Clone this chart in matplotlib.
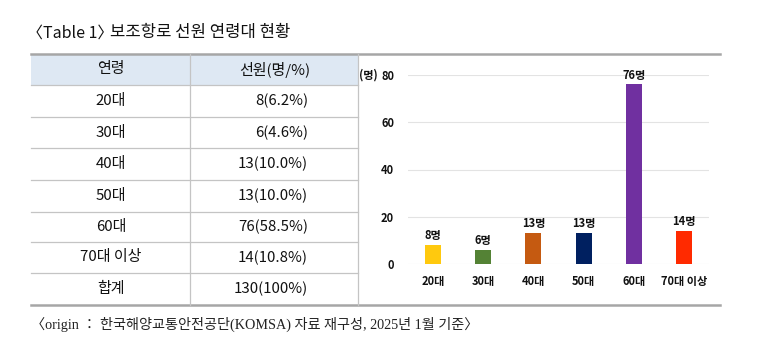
import matplotlib
matplotlib.use("Agg")
import matplotlib.pyplot as plt

plt.rcParams['font.family'] = ['Noto Sans CJK KR', 'DejaVu Sans']

title_a = "〈Table 1〉"
title_b = "보조항로 선원 연령대 현황"
header = ["연령", "선원(명/%)"]
ages = ["20대", "30대", "40대", "50대", "60대", "70대 이상"]
counts = [8, 6, 13, 13, 76, 14]
pcts = [6.2, 4.6, 10.0, 10.0, 58.5, 10.8]
total_label = "합계"
total_count = 130
total_pct = "100%"
bar_colors = ["#FFC90E", "#548235", "#C55A11", "#002060", "#7030A0", "#FF2A00"]
yticks = [0, 20, 40, 60, 80]
unit = "(명)"
footnote = "〈origin ： 한국해양교통안전공단(KOMSA) 자료 재구성, 2025년 1월 기준〉"

W, H = 760, 348
fig = plt.figure(figsize=(W / 100, H / 100), dpi=100)

# Background axes in pixel coordinates
bg = fig.add_axes([0, 0, 1, 1])
bg.set_xlim(0, W)
bg.set_ylim(H, 0)
bg.axis("off")

bg.text(27, 33, title_a, fontsize=11.5, va="center", ha="left", color="#111111")
bg.text(110, 33, title_b, fontsize=12, va="center", ha="left", color="#111111",
        fontweight="medium")

# table geometry
x0, xmid, x1, xr = 31, 190, 358, 720
row_edges = [54, 85, 117, 148, 180, 212, 242, 273, 305]

bg.add_patch(plt.Rectangle((x0, row_edges[0]), x1 - x0, row_edges[1] - row_edges[0],
                           facecolor="#DEE8F3", edgecolor="none", zorder=0))
for y in row_edges[1:-1]:
    bg.plot([x0, x1], [y, y], color="#C4C4C4", lw=0.9, zorder=1)
bg.plot([x0, xr], [row_edges[0], row_edges[0]], color="#A6A6A6", lw=1.8, zorder=2)
bg.plot([x0, xr], [row_edges[-1], row_edges[-1]], color="#A6A6A6", lw=1.8, zorder=2)
bg.plot([xmid, xmid], [row_edges[0], row_edges[-1]], color="#C4C4C4", lw=0.9)
bg.plot([x1, x1], [row_edges[0], row_edges[-1]], color="#C4C4C4", lw=0.9)

rows_left = [header[0]] + ages + [total_label]
rows_right = [header[1]] + [f"{c}({p:.1f}%)" for c, p in zip(counts, pcts)] + [f"{total_count}({total_pct})"]
for i, (a, b) in enumerate(zip(rows_left, rows_right)):
    yc = (row_edges[i] + row_edges[i + 1]) / 2
    bg.text(111, yc, a, fontsize=10.8, ha="center", va="center", color="#111111")
    if i == 0:
        bg.text(275, yc, b, fontsize=10.8, ha="center", va="center", color="#111111")
    else:
        bg.text(308, yc, b, fontsize=10.8, ha="right", va="center", color="#111111")

bg.text(31, 324, footnote, fontsize=10.2, ha="left", va="center", color="#222222",
        family=["Liberation Serif", "Noto Sans CJK KR"])

# Bar chart
ax_l, ax_r, ax_b, ax_t = 408, 709, 264, 75
ax = fig.add_axes([ax_l / W, (H - ax_b) / H, (ax_r - ax_l) / W, (ax_b - ax_t) / H])
ax.patch.set_alpha(0)
xs = list(range(len(ages)))
ax.bar(xs, counts, width=0.32, color=bar_colors, zorder=3)
ax.set_xlim(-0.5, len(ages) - 0.5)
ax.set_ylim(0, 80)
ax.set_yticks(yticks)
ax.set_yticklabels([str(t) for t in yticks], fontsize=8, fontweight="bold")
ax.set_xticks(xs)
ax.set_xticklabels(ages, fontsize=8, fontweight="bold")
ax.tick_params(axis="both", length=0, colors="#111111")
ax.tick_params(axis="y", pad=10)
ax.tick_params(axis="x", pad=8)
ax.grid(axis="y", color="#E3E3E3", lw=0.8, zorder=0)
for s in ax.spines.values():
    s.set_visible(False)
for x, c in zip(xs, counts):
    ax.text(x, c + 1.2, f"{c}명", ha="center", va="bottom", fontsize=8,
            fontweight="bold", color="#111111", clip_on=False)
bg.text(368, 75, unit, fontsize=8, fontweight="bold", ha="center", va="center", color="#111111")

fig.savefig("out.png", dpi=100)
